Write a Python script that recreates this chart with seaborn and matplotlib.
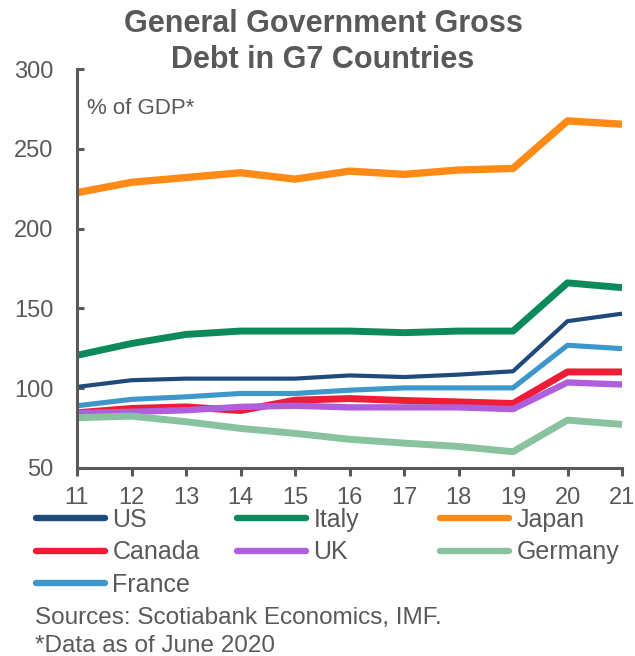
import matplotlib
matplotlib.use("Agg")
import matplotlib.pyplot as plt
from matplotlib.lines import Line2D
import seaborn as sns
import pandas as pd

years = [11, 12, 13, 14, 15, 16, 17, 18, 19, 20, 21]
us      = [100.8, 105, 106, 106, 106, 108, 107, 108.5, 110.6, 142, 146.7]
italy   = [120.6, 128, 133.7, 135.8, 135.8, 135.8, 134.8, 135.8, 135.8, 166, 163]
japan   = [222.5, 229, 232, 235, 231, 236, 234, 236.7, 237.7, 267.5, 265.4]
canada  = [84.6, 87.3, 88.3, 86, 92.5, 93.5, 92.3, 91.4, 90.4, 110.2, 110.2]
uk      = [84.4, 85.2, 86.2, 88.3, 89, 88, 88, 88, 86.9, 103.6, 102.3]
germany = [81.5, 82.5, 79, 74.8, 71.7, 68, 65.6, 63.5, 60.2, 80, 77.3]
france  = [89, 93, 94.6, 96.7, 96.7, 98.75, 100.2, 100.2, 100.2, 126.9, 124.8]

countries = ["US", "Italy", "Japan", "Canada", "UK", "Germany", "France"]
series = [us, italy, japan, canada, uk, germany, france]
colors = {"US": "#1f4a7c", "Italy": "#0c8a5c", "Japan": "#ff8a16",
          "Canada": "#ee1c35", "UK": "#b05fdc", "Germany": "#88c29f",
          "France": "#3e97cb"}
widths = {"US": 3.0, "Italy": 5.0, "Japan": 5.3, "Canada": 5.0,
          "UK": 4.6, "Germany": 5.0, "France": 3.7}

rows = []
for c, vals in zip(countries, series):
    for y, v in zip(years, vals):
        rows.append({"year": y, "value": v, "country": c})
df = pd.DataFrame(rows)

sns.set_theme(style="white")
plt.rcParams['font.family'] = ['Liberation Sans', 'DejaVu Sans']
gray = "#595959"

fig = plt.figure(figsize=(6.35, 6.56), dpi=100)
ax = fig.add_axes([77/635, 1-468/656, (622-77)/635, (468-69)/656])

for c in countries:
    sns.lineplot(data=df[df.country == c], x="year", y="value", ax=ax,
                 color=colors[c], linewidth=widths[c], legend=False,
                 solid_capstyle="butt", clip_on=False)

ax.set_xlim(11, 21)
ax.set_ylim(50, 300)
ax.set_xticks(years)
ax.set_yticks([50, 100, 150, 200, 250, 300])
ax.set_xlabel("")
ax.set_ylabel("")
for s in ["top", "right"]:
    ax.spines[s].set_visible(False)
for s in ["left", "bottom"]:
    ax.spines[s].set_color(gray)
    ax.spines[s].set_linewidth(2.2)
ax.tick_params(axis="both", colors=gray, labelsize=17, width=2.2,
               bottom=True, left=True)
ax.tick_params(axis="x", direction="out", length=5.5, pad=8)
ax.tick_params(axis="y", direction="in", length=5, pad=17)
for lab in ax.get_xticklabels() + ax.get_yticklabels():
    lab.set_color(gray)

ax.text(0.019, 0.9, "% of GDP*", transform=ax.transAxes, fontsize=16,
        color=gray, ha="left", va="center")

fig.text(323/635, 1-42/656, "General Government Gross\nDebt in G7 Countries",
         ha="center", va="center", fontsize=22, fontweight="bold",
         color=gray, linespacing=1.22)

# legend laid out in rows: three columns placed at fixed x positions
columns = [["US", "Canada", "France"], ["Italy", "UK"], ["Japan", "Germany"]]
col_x = [36, 237, 440]
for names, x0 in zip(columns, col_x):
    handles = [Line2D([0], [0], color=colors[n], lw=4.6,
                      solid_capstyle="round") for n in names]
    leg = fig.legend(handles, names, loc="upper left",
                     bbox_to_anchor=(x0/635, 1-508/656), frameon=False,
                     fontsize=18, handlelength=2.76, handletextpad=0.3,
                     labelspacing=0.33, borderaxespad=0, borderpad=0)
    for t in leg.get_texts():
        t.set_color(gray)

fig.text(35/635, 1-618/656, "Sources: Scotiabank Economics, IMF.",
         fontsize=17.5, color=gray, ha="left", va="center")
fig.text(35/635, 1-646/656, "*Data as of June 2020",
         fontsize=17.5, color=gray, ha="left", va="center")

fig.savefig("out.png", dpi=100)
